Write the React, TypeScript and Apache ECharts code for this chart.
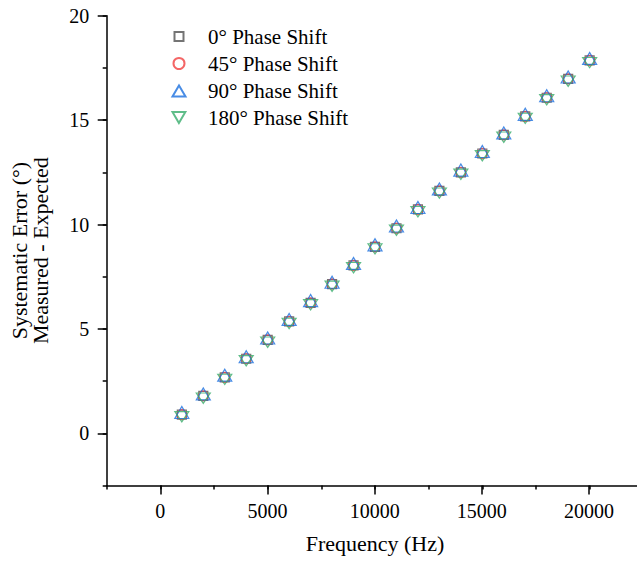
import React, { useEffect, useRef } from 'react';
import * as echarts from 'echarts';

const frequencies = [1000, 2000, 3000, 4000, 5000, 6000, 7000, 8000, 9000, 10000, 11000, 12000, 13000, 14000, 15000, 16000, 17000, 18000, 19000, 20000];
const shift0 = [0.89, 1.79, 2.68, 3.57, 4.47, 5.36, 6.25, 7.14, 8.04, 8.93, 9.82, 10.72, 11.61, 12.5, 13.4, 14.29, 15.18, 16.07, 16.97, 17.86];
const shift45 = [0.89, 1.79, 2.68, 3.58, 4.47, 5.36, 6.25, 7.15, 8.04, 8.93, 9.82, 10.72, 11.61, 12.5, 13.4, 14.29, 15.18, 16.08, 16.97, 17.86];
const shift90 = [0.9, 1.79, 2.69, 3.57, 4.47, 5.36, 6.26, 7.14, 8.04, 8.93, 9.83, 10.72, 11.61, 12.51, 13.4, 14.29, 15.18, 16.07, 16.97, 17.86];
const shift180 = [0.89, 1.78, 2.68, 3.57, 4.46, 5.36, 6.25, 7.14, 8.03, 8.93, 9.82, 10.71, 11.6, 12.5, 13.39, 14.28, 15.18, 16.07, 16.96, 17.85];

const seriesNames = ['0° Phase Shift', '45° Phase Shift', '90° Phase Shift', '180° Phase Shift'];
const seriesColors = ['#515151', '#F14040', '#1A6FDF', '#37AD6B'];

const FONT = "'Liberation Serif', 'Times New Roman', Times, serif";

export default function App() {
  const ref = useRef<HTMLDivElement>(null);
  useEffect(() => {
    if (!ref.current) return;
    const chart = echarts.init(ref.current, null, { renderer: 'svg' });
    const pairs = (ys: number[]) => frequencies.map((f, i) => [f, ys[i]]);
    const hollow = (c: string) => ({ color: 'rgba(255,255,255,0)', borderColor: c, borderWidth: 1.2 });
    const downTri = 'path://M0,0L14,0L7,12Z';
    const axisLineStyle = { color: '#000', width: 1.5 };
    const labelFont = { fontFamily: FONT, fontSize: 20, color: '#000' };
    const plain = (v: number) => String(v);

    const legendItem = (i: number, top: number, size: number, w: number, pad: number) => ({
      data: [seriesNames[i]],
      left: 178 - w / 2,
      top,
      orient: 'vertical',
      padding: 0,
      itemWidth: w,
      itemHeight: size,
      selectedMode: false,
      textStyle: { fontFamily: FONT, fontSize: 21, lineHeight: 21, color: '#000', padding: [0, 0, 0, pad] },
    });

    chart.setOption({
      animation: false,
      backgroundColor: '#fff',
      legend: [
        legendItem(0, 26, 9, 9, 19.5),
        legendItem(1, 53, 11, 11, 18.5),
        legendItem(2, 80.5, 11, 13, 17.5),
        legendItem(3, 107, 11, 13, 17.5),
      ],
      grid: [
        { left: 106.7, width: 536.6, top: 15.7, bottom: 76.5, outerBoundsMode: 'none', containLabel: false },
        { left: 106.7, width: 536.6, top: 15.7, bottom: 128.7, outerBoundsMode: 'none', containLabel: false },
        { left: 160.3, width: 428.7, top: 15.7, bottom: 76.5, outerBoundsMode: 'none', containLabel: false },
      ],
      xAxis: [
        {
          gridIndex: 0, type: 'value', min: -2500, max: 22500, interval: 2500,
          name: 'Frequency (Hz)', nameLocation: 'middle', nameGap: 46.5,
          nameTextStyle: { fontFamily: FONT, fontSize: 22, color: '#000', lineHeight: 22 },
          axisLine: { show: true, onZero: false, lineStyle: axisLineStyle },
          axisTick: { show: true, length: 4, lineStyle: axisLineStyle },
          axisLabel: { show: false },
          splitLine: { show: false },
        },
        {
          gridIndex: 1, type: 'value', min: 0, max: 1, show: false,
        },
        {
          gridIndex: 2, type: 'value', min: 0, max: 20000, interval: 5000,
          axisLine: { show: false, onZero: false },
          axisTick: { show: true, length: 9, lineStyle: axisLineStyle },
          axisLabel: { show: true, margin: 15, formatter: plain, ...labelFont },
          splitLine: { show: false },
        },
      ],
      yAxis: [
        {
          gridIndex: 0, type: 'value', min: -2.5, max: 20, interval: 2.5,
          name: 'Systematic Error (°)\nMeasured - Expected', nameLocation: 'middle', nameGap: 55.5,
          nameTextStyle: { fontFamily: FONT, fontSize: 22, color: '#000', lineHeight: 21 },
          axisLine: { show: true, onZero: false, lineStyle: axisLineStyle },
          axisTick: { show: true, length: 4, lineStyle: axisLineStyle },
          axisLabel: { show: false },
          splitLine: { show: false },
        },
        {
          gridIndex: 1, type: 'value', min: 0, max: 20, interval: 5,
          axisLine: { show: false, onZero: false },
          axisTick: { show: true, length: 9, lineStyle: axisLineStyle },
          axisLabel: { show: true, margin: 17.5, formatter: plain, ...labelFont },
          splitLine: { show: false },
        },
        {
          gridIndex: 2, type: 'value', min: 0, max: 1, show: false,
        },
      ],
      series: [
        {
          name: seriesNames[0], type: 'scatter', xAxisIndex: 0, yAxisIndex: 0,
          symbol: 'rect', symbolSize: 9, itemStyle: hollow(seriesColors[0]), data: pairs(shift0),
        },
        {
          name: seriesNames[1], type: 'scatter', xAxisIndex: 0, yAxisIndex: 0,
          symbol: 'circle', symbolSize: 10, itemStyle: hollow(seriesColors[1]), data: pairs(shift45),
        },
        {
          name: seriesNames[2], type: 'scatter', xAxisIndex: 0, yAxisIndex: 0,
          symbol: 'triangle', symbolSize: [14, 12], symbolOffset: [0, -2],
          itemStyle: hollow(seriesColors[2]), data: pairs(shift90),
        },
        {
          name: seriesNames[3], type: 'scatter', xAxisIndex: 0, yAxisIndex: 0,
          symbol: downTri, symbolSize: [14, 12], symbolOffset: [0, 2], symbolKeepAspect: true,
          itemStyle: hollow(seriesColors[3]), data: pairs(shift180),
        },
      ],
    });
    return () => chart.dispose();
  }, []);
  return <div ref={ref} style={{ width: 637, height: 562, position: 'absolute', left: 0, top: 0 }} />;
}
